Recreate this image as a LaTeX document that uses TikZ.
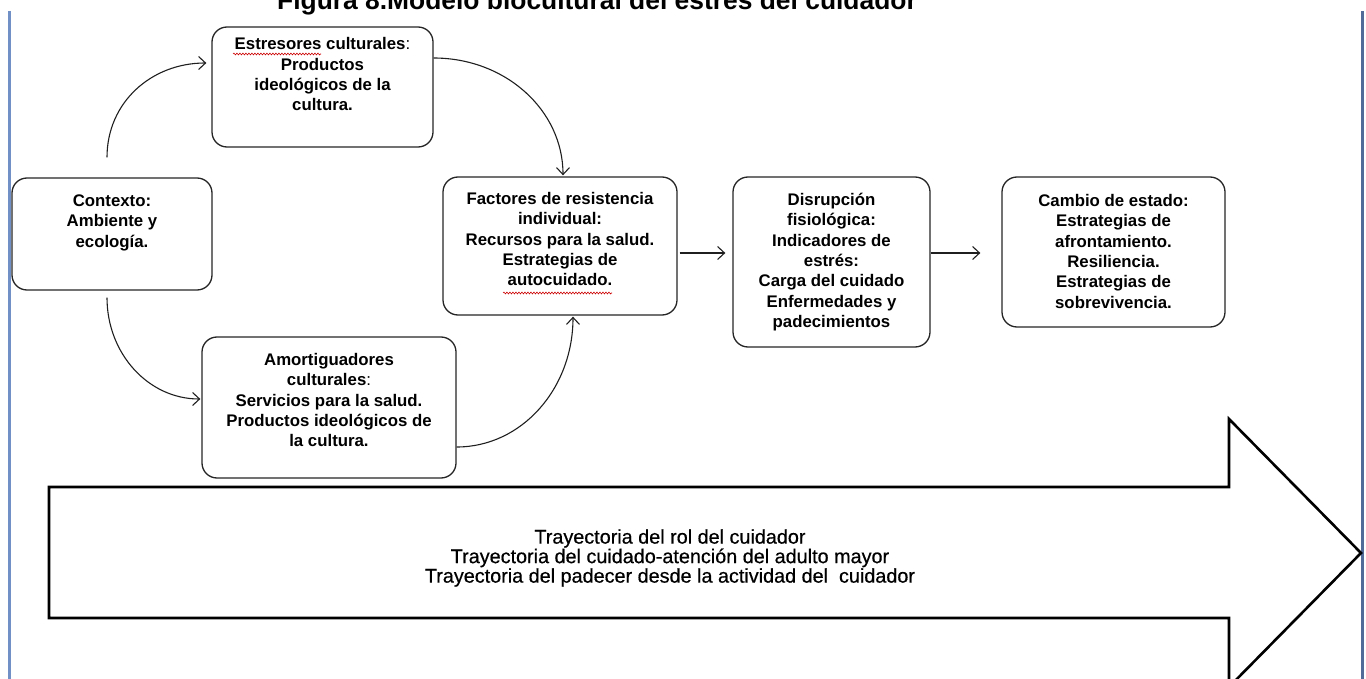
\documentclass[tikz,border=0pt]{standalone}
\usepackage{fontspec}
\setmainfont{Liberation Sans}
\newfontfamily\trayfont[FakeBold=0.5]{Liberation Sans}
\usetikzlibrary{arrows.meta,decorations.pathmorphing}
\definecolor{edgeblueL}{RGB}{112,144,198}
\definecolor{edgeblueR}{RGB}{82,108,154}
\definecolor{boxline}{RGB}{38,38,38}
\begin{document}
\begin{tikzpicture}[x=1pt,y=-1pt,
  stage/.style={draw=boxline,line width=1.3pt,rounded corners=15pt,inner sep=0pt,fill=white},
  stagetext/.style={anchor=north,align=center,inner sep=0pt,
    font=\fontsize{16.8}{20.3}\selectfont\bfseries},
  link/.style={draw=black!88,line width=1.1pt,
    -{Straight Barb[length=7pt,width=13pt,line width=1.1pt]}},
  squiggle/.style={draw=red!80!black,line width=0.6pt,decorate,
    decoration={snake,amplitude=0.9pt,segment length=3pt}},
  bigarrow/.style={draw=black,line width=2.6pt,line join=miter,fill=white},
]
\useasboundingbox (0,0) rectangle (1366,679);
\clip (0,0) rectangle (1366,679);

% page rules at both sides
\draw[edgeblueL,line width=3pt] (9,11) -- (9,679);
\draw[edgeblueR,line width=3pt] (1362,11) -- (1362,679);

% caption (cut at the top edge)
\node[anchor=base west,inner sep=0pt,font=\fontsize{26.4}{30}\selectfont\bfseries]
  (title) at (277,10) {Figura 8.Modelo biocultural del estrés del cuidador};

% stage boxes
\node[stage,minimum width=200pt,minimum height=112pt] (ctx)   at (112,234)   {};
\node[stage,minimum width=221pt,minimum height=120pt] (est)   at (322.5,87)  {};
\node[stage,minimum width=254pt,minimum height=141pt] (amort) at (329,407.5) {};
\node[stage,minimum width=234pt,minimum height=138pt] (fac)   at (560,246)   {};
\node[stage,minimum width=197pt,minimum height=170pt] (disr)  at (831.5,262) {};
\node[stage,minimum width=223pt,minimum height=150pt] (camb)  at (1113.5,252) {};

% box texts
\node[stagetext] (ctxT) at ([shift={(0,14.8)}]ctx.north)
  {\strut Contexto:\\ Ambiente y\\ ecología.};
\node[stagetext] (estT) at ([shift={(0,9)}]est.north)
  {\strut Estresores culturales{\mdseries:}\\ Productos\\ ideológicos de la\\ cultura.};
\node[stagetext] (amortT) at ([shift={(0,14.8)}]amort.north)
  {\strut Amortiguadores\\ culturales{\mdseries:}\\ Servicios para la salud.\\ Productos ideológicos de\\ la cultura.};
\node[stagetext] (facT) at ([shift={(0,13.8)}]fac.north)
  {\strut Factores de resistencia\\ individual:\\ Recursos para la salud.\\ Estrategias de\\ autocuidado.};
\node[stagetext] (disrT) at ([shift={(0,14.8)}]disr.north)
  {\strut Disrupción\\ fisiológica:\\ Indicadores de\\ estrés:\\ Carga del cuidado\\ Enfermedades y\\ padecimientos};
\node[stagetext] (cambT) at ([shift={(0,15.8)}]camb.north)
  {\strut Cambio de estado:\\ Estrategias de\\ afrontamiento.\\ Resiliencia.\\ Estrategias de\\ sobrevivencia.};

% spell-check marks
\draw[squiggle] (233,54) -- (321,54);
\draw[squiggle] (503,293) -- (612,293);

% connectors
\draw[link] ([shift={(-5,-20)}]ctx.north) .. controls +(0,-55) and +(-55,0) .. ([shift={(-5,-24)}]est.west);
\draw[link] ([shift={(-5,7)}]ctx.south) .. controls +(0,56) and +(-52,0) .. ([shift={(-1,-8.5)}]amort.west);
\draw[link] ([shift={(0,-29)}]est.east) .. controls +(72,0) and +(0,-65) .. ([shift={(3,-1)}]fac.north);
\draw[link] ([shift={(0,39.5)}]amort.east) .. controls +(65,0) and +(0,72) .. ([shift={(13,1)}]fac.south);
\draw[link] ([shift={(2,7)}]fac.east) -- ([shift={(-7,-9)}]disr.west);
\draw[link] ([shift={(0,-9)}]disr.east) -- ([shift={(-21,1)}]camb.west);

% trajectory arrow
\draw[bigarrow] (49,487) -- (1229,487) -- (1229,419) -- (1361,553)
  -- (1229,687) -- (1229,618) -- (49,618) -- cycle;
\node[align=center,inner sep=0pt,font=\trayfont\fontsize{19.8}{19.5}\selectfont] (trayT) at (670,558)
  {Trayectoria del rol del cuidador\\
   Trayectoria del cuidado-atención del adulto mayor\\
   Trayectoria del padecer desde la actividad del\ \ cuidador};
\end{tikzpicture}
\end{document}
